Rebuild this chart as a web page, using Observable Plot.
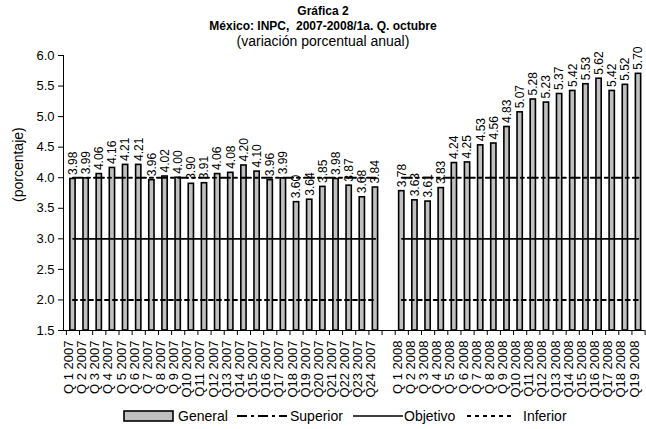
<!DOCTYPE html>
<html>
<head>
<meta charset="utf-8">
<script src="https://cdn.jsdelivr.net/npm/d3@7"></script>
<script src="https://cdn.jsdelivr.net/npm/@observablehq/plot@0.6"></script>
<style>
  body { margin: 0; background: #fff; }
  #wrap { width: 646px; height: 429px; position: relative; font-family: "Liberation Sans", Arial, sans-serif; color: #000; overflow: hidden; }
  #title { width: 646px; text-align: center; font-size: 12px; line-height: 15px; padding-top: 4px; height: 44px; }
  #title .sub { font-size: 14px; }
  #chart svg { display: block; }
  #legend { position: absolute; left: 0; top: 408px; width: 646px; height: 16px; font-size: 14px; }
  #legend > * { position: absolute; top: 0; }
</style>
</head>
<body>
<div id="wrap">
  <div id="title"><b>Gráfica 2</b><br><b>México: INPC,&nbsp; 2007-2008/1a. Q. octubre</b><br><span class="sub">(variación porcentual anual)</span></div>
  <div id="chart"></div>
  <div id="legend"></div>
</div>
<script>
// ---- Data ----
const labels2007 = ["Q 1 2007","Q 2 2007","Q 3 2007","Q 4 2007","Q 5 2007","Q 6 2007","Q 7 2007","Q 8 2007","Q 9 2007","Q10 2007","Q11 2007","Q12 2007","Q13 2007","Q14 2007","Q15 2007","Q16 2007","Q17 2007","Q18 2007","Q19 2007","Q20 2007","Q21 2007","Q22 2007","Q23 2007","Q24 2007"];
const values2007 = [3.98,3.99,4.06,4.16,4.21,4.21,3.96,4.02,4.00,3.90,3.91,4.06,4.08,4.20,4.10,3.96,3.99,3.60,3.64,3.85,3.98,3.87,3.68,3.84];
const labels2008 = ["Q 1 2008","Q 2 2008","Q 3 2008","Q 4 2008","Q 5 2008","Q 6 2008","Q 7 2008","Q 8 2008","Q 9 2008","Q10 2008","Q11 2008","Q12 2008","Q13 2008","Q14 2008","Q15 2008","Q16 2008","Q17 2008","Q18 2008","Q19 2008"];
const values2008 = [3.78,3.63,3.61,3.83,4.24,4.25,4.53,4.56,4.83,5.07,5.28,5.23,5.37,5.42,5.53,5.62,5.42,5.52,5.70];
const superior = 4.0;
const objetivo = 3.0;
const inferior = 2.0;
const yTicks = [1.5,2.0,2.5,3.0,3.5,4.0,4.5,5.0,5.5,6.0];

// ---- Build slots (one empty slot between years) ----
const slots = [];
labels2007.forEach((l, k) => slots.push({label: l, v: values2007[k]}));
slots.push({label: "", v: NaN});
labels2008.forEach((l, k) => slots.push({label: l, v: values2008[k]}));
slots.forEach((d, i) => d.i = i);
const bars = slots.filter(d => !isNaN(d.v));
const lineData = (lvl) => slots.map(d => ({i: d.i, y: isNaN(d.v) ? NaN : lvl}));
const n = slots.length;
const boundaries = d3.range(n + 1).map(k => k - 0.5);
const xMin = -0.72;

const chart = Plot.plot({
  width: 646,
  height: 360,
  marginLeft: 63,
  marginRight: 1.4,
  marginTop: 7,
  marginBottom: 78,
  style: {fontFamily: "Liberation Sans, Arial, sans-serif", fontSize: "13px", overflow: "visible", color: "#000"},
  x: {type: "linear", domain: [xMin, n - 0.5]},
  y: {domain: [1.5, 6.0]},
  marks: [
    Plot.rectY(bars, {x1: d => d.i - 0.2, x2: d => d.i + 0.2, y1: 1.5, y2: "v", fill: "#c0c0c0", stroke: "#000", strokeWidth: 1.6}),
    Plot.lineY(lineData(superior), {x: "i", y: "y", stroke: "#000", strokeWidth: 2, strokeDasharray: "10,4,3,4"}),
    Plot.lineY(lineData(objetivo), {x: "i", y: "y", stroke: "#000", strokeWidth: 1.6}),
    Plot.lineY(lineData(inferior), {x: "i", y: "y", stroke: "#000", strokeWidth: 2, strokeDasharray: "4,4"}),
    Plot.text(bars, {x: "i", y: "v", text: d => d.v.toFixed(2), rotate: -90, textAnchor: "start", dy: -4, fontSize: 12, fill: "#000"}),
    Plot.text(slots, {x: "i", frameAnchor: "bottom", text: "label", rotate: -90, textAnchor: "end", dy: 10, fontSize: 13, fill: "#000", style: {letterSpacing: "0.5px"}}),
    Plot.ruleY([1.5], {stroke: "#000", strokeWidth: 1}),
    Plot.ruleX([xMin], {stroke: "#000", strokeWidth: 1}),
    Plot.axisX({ticks: boundaries, tickFormat: () => "", tickSize: 5, label: null}),
    Plot.axisY({ticks: yTicks, tickFormat: d3.format(".1f"), tickSize: 5, tickPadding: 4, fontSize: 13, label: null}),
    Plot.text(["(porcentaje)"], {frameAnchor: "left", dx: -45, dy: 9, rotate: -90, fontSize: 14, fill: "#000"})
  ]
});
document.getElementById("chart").appendChild(chart);

// ---- Legend ----
const legendItems = [
  {name: "General", type: "box", sx: 123, sw: 50, tx: 178},
  {name: "Superior", dash: "10,4,3,4", sx: 237, sw: 50, tx: 290},
  {name: "Objetivo", dash: null, sx: 353, sw: 50, tx: 404},
  {name: "Inferior", dash: "4,4", sx: 467, sw: 46, tx: 523}
];
const legend = d3.select("#legend");
legendItems.forEach(it => {
  const s = legend.append("svg").style("left", it.sx + "px").attr("width", it.sw + 2).attr("height", 16);
  if (it.type === "box") {
    s.append("rect").attr("x", 1).attr("y", 3).attr("width", it.sw - 1).attr("height", 10).attr("fill", "#c0c0c0").attr("stroke", "#000").attr("stroke-width", 1.6);
  } else {
    const l = s.append("line").attr("x1", 0).attr("x2", it.sw).attr("y1", 8).attr("y2", 8).attr("stroke", "#000").attr("stroke-width", it.dash ? 2 : 1.6);
    if (it.dash) l.attr("stroke-dasharray", it.dash);
  }
  legend.append("span").style("left", it.tx + "px").style("line-height", "16px").text(it.name);
});
</script>
</body>
</html>
